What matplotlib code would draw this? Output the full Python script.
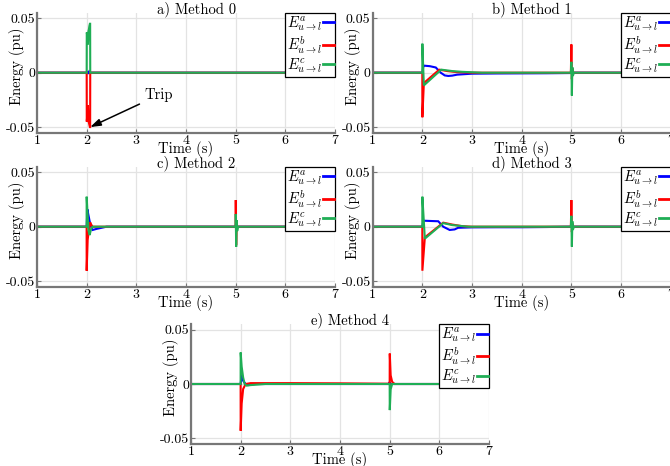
import matplotlib
matplotlib.use("Agg")
import matplotlib.pyplot as plt

plt.rcParams["font.family"] = ["cmr10", "DejaVu Serif"]
plt.rcParams["mathtext.fontset"] = "cm"
plt.rcParams["axes.unicode_minus"] = False
plt.rcParams["axes.formatter.use_mathtext"] = True

# ---- energy traces per method and phase (time in s, energy in pu) ----
# Method 0
m0_t_a = [1, 2.0, 2.01, 2.03, 2.05, 2.07, 2.08, 7]
m0_e_a = [0, 0, 0.001, -0.001, 0.001, 0, 0, 0]
m0_t_b = [1, 2.0, 2.002, 2.015, 2.025, 2.035, 2.045, 2.055, 2.065, 2.07, 2.072, 7]
m0_e_b = [0, 0, -0.045, -0.038, -0.030, -0.044, -0.046, -0.048, -0.050, -0.050, 0, 0]
m0_t_c = [1, 2.0, 2.002, 2.015, 2.025, 2.035, 2.045, 2.055, 2.065, 2.07, 2.072, 7]
m0_e_c = [0, 0, 0.037, 0.034, 0.026, 0.038, 0.040, 0.043, 0.045, 0.045, 0, 0]

# Method 1
m1_t_a = [1, 2.0, 2.02, 2.03, 2.15, 2.27, 2.37, 2.45, 2.52, 2.6, 2.7, 3.0, 3.5, 4.0,
          4.5, 4.99, 5.0, 5.02, 5.05, 7]
m1_e_a = [0, 0, 0.006, 0.0065, 0.006, 0.0048, 0.0, -0.0025, -0.003, -0.0027, -0.0018,
          -0.0009, -0.0007, -0.0006, -0.0005, -0.0003, 0.003, -0.002, 0, 0]
m1_t_b = [1, 1.999, 2.0, 2.03, 2.34, 2.5, 2.7, 3.0, 4.99, 5.0, 5.01, 5.02, 5.04, 7]
m1_e_b = [0, 0, -0.041, -0.0095, 0.0028, 0.0015, 0.0005, 0.0, 0.0, 0.026, -0.006,
          0.004, 0, 0]
m1_t_c = [1, 1.999, 2.0, 2.03, 2.38, 2.6, 2.8, 3.2, 4.99, 5.0, 5.01, 5.02, 5.03, 5.05, 7]
m1_e_c = [0, 0, 0.0267, -0.0117, 0.0028, 0.0015, 0.0008, 0, 0, 0.010, -0.021, 0.005,
          -0.003, 0, 0]

# Method 2
m2_t_a = [1, 2.0, 2.015, 2.03, 2.06, 2.09, 2.12, 2.2, 2.3, 2.4, 5.0, 5.01, 5.02, 5.03, 7]
m2_e_a = [0, 0, 0.016, 0.012, 0.005, 0.0, -0.003, -0.002, -0.001, 0, 0, 0.004, -0.004, 0, 0]
m2_t_b = [1, 1.999, 2.0, 2.02, 2.04, 2.07, 2.09, 2.12, 5.0, 5.002, 5.01, 5.02, 5.03, 7]
m2_e_b = [0, 0, -0.0405, -0.012, -0.005, 0.004, 0.002, 0, 0, 0.0245, -0.017, 0.005, 0, 0]
m2_t_c = [1, 1.999, 2.0, 2.02, 2.04, 2.06, 2.09, 2.12, 5.0, 5.002, 5.01, 5.02, 5.03, 5.05, 7]
m2_e_c = [0, 0, 0.0276, 0.010, -0.004, -0.0077, -0.002, 0, 0, 0.0117, -0.0185, 0.006,
          -0.004, 0, 0]

# Method 3
m3_t_a = [1, 2.0, 2.02, 2.03, 2.2, 2.32, 2.42, 2.55, 2.65, 2.72, 3.0, 3.5, 4.0, 4.5,
          4.99, 5.0, 5.02, 5.05, 7]
m3_e_a = [0, 0, 0.0052, 0.0055, 0.0052, 0.005, 0.0, -0.003, -0.0025, -0.001, -0.0006,
          -0.0005, -0.0005, -0.0003, 0, 0.003, -0.002, 0, 0]
m3_t_b = [1, 1.999, 2.0, 2.05, 2.42, 2.6, 2.8, 3.0, 4.99, 5.0, 5.01, 5.02, 5.04, 7]
m3_e_b = [0, 0, -0.0405, -0.0098, 0.0037, 0.002, 0.0005, 0.0, 0.0, 0.0245, -0.005,
          0.003, 0, 0]
m3_t_c = [1, 1.999, 2.0, 2.05, 2.42, 2.6, 2.92, 4.99, 5.0, 5.01, 5.02, 5.03, 5.05, 7]
m3_e_c = [0, 0, 0.0276, -0.011, 0.0033, 0.0015, 0, 0, 0.010, -0.0184, 0.005, -0.003, 0, 0]

# Method 4
m4_t_a = [1, 1.999, 2.0, 2.02, 2.05, 2.1, 2.15, 2.3, 4.99, 5.0, 5.01, 5.03, 7]
m4_e_a = [0, 0, 0, 0.0086, 0.003, 0, -0.001, 0, 0, 0.002, -0.002, 0, 0]
m4_t_b = [1, 1.999, 2.0, 2.02, 2.05, 2.1, 2.2, 3.0, 4.0, 4.9, 5.0, 5.002, 5.02, 5.05,
          5.1, 7]
m4_e_b = [0, 0, -0.043, -0.018, -0.0046, 0, 0.0008, 0.0008, 0.0006, 0.0003, 0.0003,
          0.028, 0.008, 0.002, 0, 0]
m4_t_c = [1, 1.999, 2.0, 2.02, 2.05, 2.08, 2.12, 2.2, 2.5, 4.99, 5.0, 5.002, 5.02, 5.05, 7]
m4_e_c = [0, 0, 0.029, 0.016, 0.006, 0.0, -0.0015, -0.001, 0, 0, 0, -0.024, -0.005, 0, 0]

titles = ["a) Method 0", "b) Method 1", "c) Method 2", "d) Method 3", "e) Method 4"]
x_ticks = [1, 2, 3, 4, 5, 6, 7]
y_ticks = [-0.05, 0, 0.05]
y_tick_labels = ["-0.05", "0", "0.05"]
phase_labels = [r"$E^a_{u\to l}$", r"$E^b_{u\to l}$", r"$E^c_{u\to l}$"]

traces = [
    [(m0_t_a, m0_e_a), (m0_t_b, m0_e_b), (m0_t_c, m0_e_c)],
    [(m1_t_a, m1_e_a), (m1_t_b, m1_e_b), (m1_t_c, m1_e_c)],
    [(m2_t_a, m2_e_a), (m2_t_b, m2_e_b), (m2_t_c, m2_e_c)],
    [(m3_t_a, m3_e_a), (m3_t_b, m3_e_b), (m3_t_c, m3_e_c)],
    [(m4_t_a, m4_e_a), (m4_t_b, m4_e_b), (m4_t_c, m4_e_c)],
]

phase_colors = ["#0000ff", "#ff0000", "#1fae55"]
spine_color = "#777777"
grid_color = "#e3e3e3"

W, H = 670, 466
fig = plt.figure(figsize=(W / 100, H / 100), dpi=100)


def px_axes(left, top, right, bottom):
    return fig.add_axes([left / W, 1 - bottom / H, (right - left) / W, (bottom - top) / H])


boxes = [
    (37, 12.9, 335, 132.5),
    (372.7, 12.9, 670.7, 132.5),
    (37, 166.9, 335, 286.5),
    (372.7, 166.9, 670.7, 286.5),
    (191, 324.2, 489, 443.8),
]

for k, box in enumerate(boxes):
    ax = px_axes(*box)
    handles = []
    for (t, e), col, lab in zip(traces[k], phase_colors, phase_labels):
        ln, = ax.plot(t, e, color=col, lw=1.5, label=lab, solid_joinstyle="miter")
        handles.append(ln)
    ax.set_xlim(1, 7)
    ax.set_ylim(-0.055, 0.055)
    ax.set_xticks(x_ticks)
    ax.set_xticklabels([str(v) for v in x_ticks])
    ax.set_yticks(y_ticks)
    ax.set_yticklabels(y_tick_labels)
    ax.tick_params(direction="in", length=3, width=0.8, color=spine_color,
                   labelsize=10, pad=1.5)
    ax.grid(True, color=grid_color, lw=0.9)
    ax.set_axisbelow(True)
    for s in ("top", "right"):
        ax.spines[s].set_visible(False)
    for s in ("left", "bottom"):
        ax.spines[s].set_color(spine_color)
        ax.spines[s].set_linewidth(1.6)
    ax.set_title(titles[k], fontsize=10.5, pad=0, x=0.535, y=1.0)
    ax.set_xlabel("Time (s)", fontsize=10.5)
    ax.xaxis.set_label_coords(0.5, -0.072)
    ax.set_ylabel("Energy (pu)", fontsize=10.5)
    ax.yaxis.set_label_coords(-0.039, 0.555)
    leg = ax.legend(handles=handles, loc="upper right", markerfirst=False,
                    fontsize=10.5, handlelength=0.7, handletextpad=0.1,
                    borderpad=0.1, borderaxespad=0, labelspacing=0.05,
                    fancybox=False, framealpha=1, edgecolor="black")
    leg.get_frame().set_linewidth(0.9)
    for lh in leg.legend_handles:
        lh.set_linewidth(2)
    if k == 0:
        ax.annotate("Trip", xy=(2.07, -0.05), xytext=(3.17, -0.0205),
                    fontsize=10.5, ha="left", va="center",
                    arrowprops=dict(arrowstyle="-|>,head_length=0.6,head_width=0.2",
                                    color="black", lw=1.1, shrinkA=2, shrinkB=0))

fig.savefig("out.png", dpi=100)
